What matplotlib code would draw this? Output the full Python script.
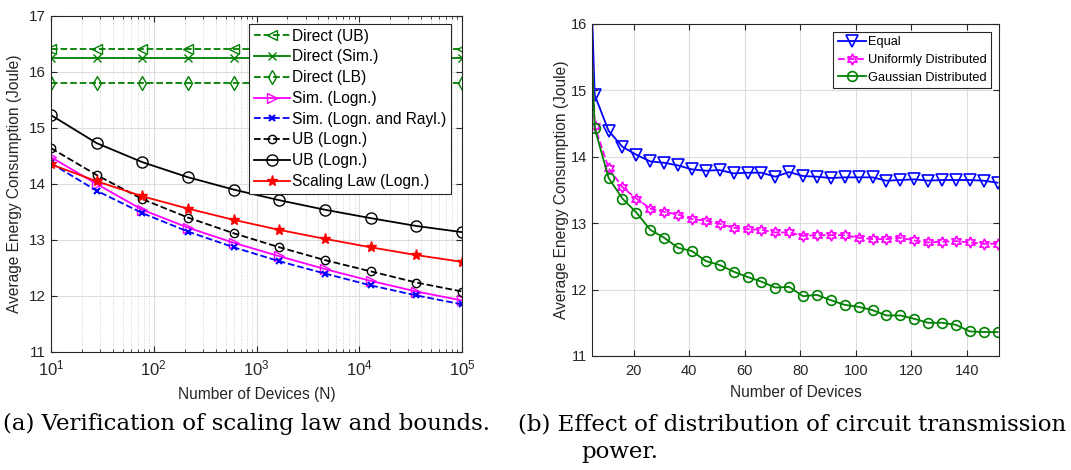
import numpy as np
import matplotlib
matplotlib.use("Agg")
import matplotlib.pyplot as plt
from matplotlib.ticker import LogLocator, FixedLocator

plt.rcParams['font.family'] = ['Liberation Sans', 'DejaVu Sans']

# ---- (a) scaling law and bounds ----
n_dev = [10, 27.8, 77.4, 215.4, 599.5, 1668.1, 4641.6, 12915.5, 35938.1, 100000]
direct_ub = [16.41] * 10
direct_sim = [16.25] * 10
direct_lb = [15.80] * 10
sim_logn = [14.48, 14.00, 13.54, 13.22, 12.95, 12.71, 12.48, 12.27, 12.08, 11.92]
sim_logn_rayl = [14.37, 13.88, 13.48, 13.15, 12.87, 12.62, 12.40, 12.19, 12.01, 11.85]
ub_logn_dash = [14.64, 14.16, 13.73, 13.40, 13.12, 12.87, 12.64, 12.44, 12.24, 12.08]
ub_logn_solid = [15.23, 14.73, 14.39, 14.12, 13.90, 13.71, 13.54, 13.39, 13.25, 13.14]
scaling_law = [14.35, 14.05, 13.78, 13.56, 13.36, 13.18, 13.02, 12.87, 12.73, 12.61]

# ---- (b) distribution of circuit power ----
n_b = list(range(1, 152, 5))
equal = [21.3, 14.93, 14.39, 14.15, 14.03, 13.93, 13.91, 13.87, 13.81, 13.79, 13.80,
         13.75, 13.76, 13.76, 13.70, 13.77, 13.71, 13.70, 13.68, 13.69, 13.69,
         13.69, 13.64, 13.65, 13.66, 13.64, 13.65, 13.65, 13.65, 13.64, 13.61]
uniform = [20.2, 14.46, 13.83, 13.54, 13.37, 13.22, 13.17, 13.13, 13.06, 13.04, 12.99,
           12.93, 12.91, 12.90, 12.86, 12.86, 12.81, 12.82, 12.82, 12.82, 12.78,
           12.76, 12.76, 12.78, 12.74, 12.71, 12.72, 12.73, 12.71, 12.69, 12.69]
gaussian = [20.0, 14.43, 13.68, 13.37, 13.16, 12.90, 12.78, 12.63, 12.58, 12.43, 12.37,
            12.27, 12.19, 12.12, 12.03, 12.04, 11.90, 11.92, 11.84, 11.77, 11.74,
            11.69, 11.61, 11.61, 11.56, 11.50, 11.50, 11.47, 11.37, 11.36, 11.36]

green = '#008000'
spine_c = '#262626'

fig = plt.figure(figsize=(10.71, 4.70), dpi=100)
ax1 = fig.add_axes([0.0476, 0.2511, 0.3838, 0.7149])
ax2 = fig.add_axes([0.5527, 0.2426, 0.3800, 0.7064])


def style_axes(ax, size):
    for s in ax.spines.values():
        s.set_color(spine_c)
        s.set_linewidth(0.8)
    ax.tick_params(direction='in', which='both', top=True, right=True,
                   colors=spine_c, labelcolor='#262626', labelsize=size)
    ax.tick_params(which='major', length=4)
    ax.tick_params(which='minor', length=2)
    ax.grid(True, which='major', color='#dcdcdc', lw=0.8)
    ax.set_axisbelow(True)


lw = 1.3
ax1.set_xscale('log')
ax1.plot(n_dev, direct_ub, '--', color=green, marker='<', ms=7, mfc='none', lw=lw, label='Direct (UB)')
ax1.plot(n_dev, direct_sim, '-', color=green, marker='x', ms=6, lw=lw, label='Direct (Sim.)')
ax1.plot(n_dev, direct_lb, '--', color=green, marker='d', ms=7, mfc='none', lw=lw, label='Direct (LB)')
ax1.plot(n_dev, sim_logn, '-', color='magenta', marker='>', ms=7, mfc='none', lw=lw, label='Sim. (Logn.)')
ax1.plot(n_dev, sim_logn_rayl, '--', color='blue', marker='x', ms=5, mew=1.5, lw=lw, label='Sim. (Logn. and Rayl.)')
ax1.plot(n_dev, ub_logn_dash, '--', color='black', marker='o', ms=6, mfc='none', lw=lw, label='UB (Logn.)')
ax1.plot(n_dev, ub_logn_solid, '-', color='black', marker='o', ms=8, mfc='none', lw=lw, label='UB (Logn.)')
ax1.plot(n_dev, scaling_law, '-', color='red', marker='*', ms=8, lw=lw, label='Scaling Law (Logn.)')
ax1.set_xlim(10, 1e5)
ax1.set_ylim(11, 17)
style_axes(ax1, 11)
ax1.tick_params(axis='x', which='major', labelsize=12, pad=5)
ax1.xaxis.set_minor_locator(LogLocator(base=10, subs=np.arange(2, 10)))
ax1.grid(True, which='minor', axis='x', color='#c8c8c8', lw=0.6, ls=':')
ax1.set_xlabel('Number of Devices (N)', fontsize=11.2, color='#262626', labelpad=6)
ax1.set_ylabel('Average Energy Consumption (Joule)', fontsize=11.2, color='#262626', labelpad=5)
leg1 = ax1.legend(loc='upper right', bbox_to_anchor=(0.973, 0.976), fontsize=11.2,
                  handlelength=2.3, handletextpad=0.15, borderpad=0.3, labelspacing=0.37,
                  borderaxespad=0, fancybox=False, framealpha=1, edgecolor=spine_c)
leg1.get_frame().set_linewidth(0.8)

ax2.plot(n_b, equal, '-', color='blue', marker='v', ms=8, mew=1.2, mfc='none', lw=lw, label='Equal')
ax2.plot(n_b, uniform, '--', color='magenta', marker=(6, 1, 0), ms=8, mew=1.2, mfc='none', lw=lw, label='Uniformly Distributed')
ax2.plot(n_b, gaussian, '-', color=green, marker='o', ms=7, mew=1.2, mfc='none', lw=lw, label='Gaussian Distributed')
ax2.set_xlim(5, 151.5)
ax2.set_ylim(11, 16)
ax2.xaxis.set_major_locator(FixedLocator([20, 40, 60, 80, 100, 120, 140]))
ax2.yaxis.set_major_locator(FixedLocator([11, 12, 13, 14, 15, 16]))
style_axes(ax2, 10.5)
ax2.tick_params(axis='x', pad=6)
ax2.set_xlabel('Number of Devices', fontsize=11.2, color='#262626', labelpad=5)
ax2.set_ylabel('Average Energy Consumption (Joule)', fontsize=11.2, color='#262626', labelpad=1)
leg2 = ax2.legend(loc='upper right', bbox_to_anchor=(0.980, 0.976), fontsize=9.2,
                  handlelength=2.2, handletextpad=0.15, borderpad=0.35, labelspacing=0.45,
                  borderaxespad=0, fancybox=False, framealpha=1, edgecolor=spine_c)
leg2.get_frame().set_linewidth(0.8)

# captions
cap_font = dict(family='DejaVu Serif', fontsize=16.5, va='center', ha='left')
fig.text(0.003, 1 - 424 / 470, '(a) Verification of scaling law and bounds.', **cap_font)
fig.text(0.4837, 1 - 424 / 470, '(b) Effect of distribution of circuit transmission', **cap_font)
fig.text(0.543, 1 - 452 / 470, 'power.', **cap_font)

fig.savefig('out.png', dpi=100)
